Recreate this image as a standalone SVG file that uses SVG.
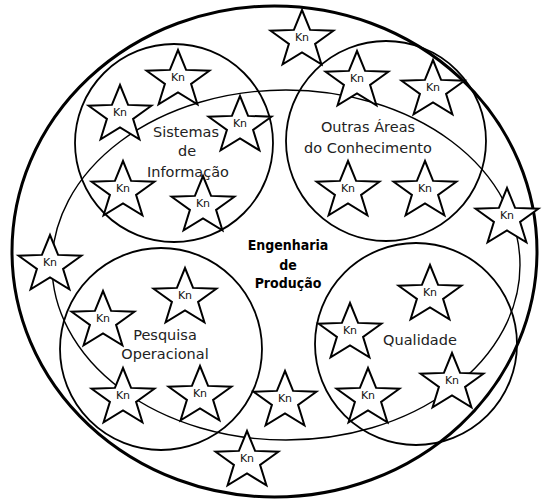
<svg xmlns="http://www.w3.org/2000/svg" xmlns:xlink="http://www.w3.org/1999/xlink" width="544" height="501" viewBox="0 0 544 501">
<style>
.outer{fill:none;stroke:#000;stroke-width:3}
.inner{fill:none;stroke:#000;stroke-width:1.4}
.area{fill:none;stroke:#000;stroke-width:1.8}
.star{fill:#fff;stroke:#000;stroke-width:2;stroke-linejoin:miter}
.kn{font-family:"DejaVu Sans",sans-serif;font-size:11px;fill:#111;text-anchor:middle}
.lbl{font-family:"DejaVu Sans",sans-serif;font-size:14.5px;fill:#222;text-anchor:middle}
.main{font-family:"DejaVu Sans Condensed","DejaVu Sans",sans-serif;font-size:14px;font-weight:bold;fill:#000;text-anchor:middle}
</style>
<defs>
<path id="st" d="M0,-30 L8.08,-10.11 L31.4,-9.27 L13.08,3.86 L19.4,24.27 L0,12.5 L-19.4,24.27 L-13.08,3.86 L-31.4,-9.27 L-8.08,-10.11 Z"/>
</defs>
<rect width="544" height="501" fill="#fff"/>
<g id="universo"><ellipse class="outer" cx="274.5" cy="251.5" rx="262.5" ry="245.5"/></g>
<g id="engenharia-de-producao">
<ellipse class="inner" cx="286" cy="265" rx="234" ry="175"/>
<text class="main" x="288" y="250">Engenharia</text>
<text class="main" x="288" y="270">de</text>
<text class="main" x="288" y="288">Produção</text>
</g>
<g id="sistemas-de-informacao"><circle class="area" cx="174" cy="143" r="99"/></g>
<g id="outras-areas"><circle class="area" cx="386" cy="141" r="100"/></g>
<g id="pesquisa-operacional"><circle class="area" cx="161" cy="349" r="101"/></g>
<g id="qualidade"><circle class="area" cx="416" cy="344" r="101"/></g>
<g id="stars">
<g id="kn1" transform="translate(178,80)"><use href="#st" class="star"/><text class="kn" y="1">Kn</text></g>
<g id="kn2" transform="translate(120,115)"><use href="#st" class="star"/><text class="kn" y="1">Kn</text></g>
<g id="kn3" transform="translate(240,126)"><use href="#st" class="star"/><text class="kn" y="1">Kn</text></g>
<g id="kn4" transform="translate(123,191)"><use href="#st" class="star"/><text class="kn" y="1">Kn</text></g>
<g id="kn5" transform="translate(203,206)"><use href="#st" class="star"/><text class="kn" y="1">Kn</text></g>
<g id="kn6" transform="translate(302,40)"><use href="#st" class="star"/><text class="kn" y="1">Kn</text></g>
<g id="kn7" transform="translate(357,81)"><use href="#st" class="star"/><text class="kn" y="1">Kn</text></g>
<g id="kn8" transform="translate(433,90)"><use href="#st" class="star"/><text class="kn" y="1">Kn</text></g>
<g id="kn9" transform="translate(348,191)"><use href="#st" class="star"/><text class="kn" y="1">Kn</text></g>
<g id="kn10" transform="translate(425,191)"><use href="#st" class="star"/><text class="kn" y="1">Kn</text></g>
<g id="kn11" transform="translate(507,218)"><use href="#st" class="star"/><text class="kn" y="1">Kn</text></g>
<g id="kn12" transform="translate(50,265)"><use href="#st" class="star"/><text class="kn" y="1">Kn</text></g>
<g id="kn13" transform="translate(185,298)"><use href="#st" class="star"/><text class="kn" y="1">Kn</text></g>
<g id="kn14" transform="translate(103,321)"><use href="#st" class="star"/><text class="kn" y="1">Kn</text></g>
<g id="kn15" transform="translate(123,398)"><use href="#st" class="star"/><text class="kn" y="1">Kn</text></g>
<g id="kn16" transform="translate(200,396)"><use href="#st" class="star"/><text class="kn" y="1">Kn</text></g>
<g id="kn17" transform="translate(247,461)"><use href="#st" class="star"/><text class="kn" y="1">Kn</text></g>
<g id="kn18" transform="translate(430,295)"><use href="#st" class="star"/><text class="kn" y="1">Kn</text></g>
<g id="kn19" transform="translate(350,333)"><use href="#st" class="star"/><text class="kn" y="1">Kn</text></g>
<g id="kn20" transform="translate(452,383)"><use href="#st" class="star"/><text class="kn" y="1">Kn</text></g>
<g id="kn21" transform="translate(368,398)"><use href="#st" class="star"/><text class="kn" y="1">Kn</text></g>
<g id="kn22" transform="translate(285,401)"><use href="#st" class="star"/><text class="kn" y="1">Kn</text></g>
</g>
<g id="labels">
<text class="lbl" x="186" y="137">Sistemas</text>
<text class="lbl" x="187" y="156">de</text>
<text class="lbl" x="188" y="177">Informação</text>
<text class="lbl" x="368" y="132">Outras Áreas</text>
<text class="lbl" x="368" y="153">do Conhecimento</text>
<text class="lbl" x="165" y="340">Pesquisa</text>
<text class="lbl" x="165" y="359">Operacional</text>
<text class="lbl" x="420" y="345">Qualidade</text>
</g>
</svg>
